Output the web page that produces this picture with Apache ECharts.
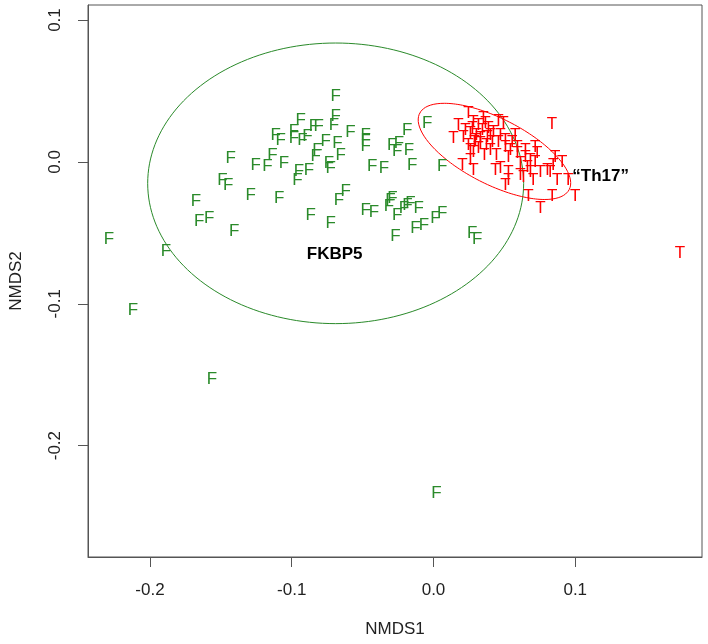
<!DOCTYPE html>
<html>
<head>
<meta charset="utf-8">
<script src="https://cdn.jsdelivr.net/npm/echarts@6/dist/echarts.min.js"></script>
<style>
html,body{margin:0;padding:0;background:#fff;}
#chart{width:708px;height:644px;}
</style>
</head>
<body>
<div id="chart"></div>
<script>
// Axis ticks
var xTicks = [-0.2, -0.1, 0.0, 0.1];
var yTicks = [-0.2, -0.1, 0.0, 0.1];
var xRange = [-0.2437, 0.1894];
var yRange = [-0.2785, 0.1106];

// "F" samples (FKBP5 group): [NMDS1, NMDS2]
var fPoints = [
  [-0.0690, 0.0460], [-0.0937, 0.0296], [-0.0690, 0.0319], [-0.0702, 0.0261],
  [-0.0843, 0.0249], [-0.0810, 0.0249], [-0.1113, 0.0190], [-0.1077, 0.0155],
  [-0.0984, 0.0213], [-0.0984, 0.0167], [-0.0925, 0.0155], [-0.0889, 0.0178],
  [-0.0585, 0.0206], [-0.0479, 0.0190], [-0.0479, 0.0108], [-0.0479, 0.0155],
  [-0.0761, 0.0143], [-0.0678, 0.0132], [-0.0819, 0.0085], [-0.0831, 0.0037],
  [-0.0655, 0.0049], [-0.1136, 0.0049], [-0.1430, 0.0026], [-0.1254, -0.0021],
  [-0.1171, -0.0033], [-0.1054, -0.0009], [-0.0737, -0.0009], [-0.0725, -0.0044],
  [-0.0878, -0.0056], [-0.0949, -0.0068], [-0.0960, -0.0127], [-0.0432, -0.0033],
  [-0.0350, -0.0044], [-0.0185, 0.0225], [-0.0044, 0.0273], [-0.0291, 0.0120],
  [-0.0244, 0.0132], [-0.0256, 0.0073], [-0.0174, 0.0085], [-0.0150, -0.0021],
  [0.0061, -0.0033], [-0.1488, -0.0127], [-0.1449, -0.0162], [-0.1289, -0.0232],
  [-0.1089, -0.0256], [-0.1676, -0.0280], [-0.1653, -0.0420], [-0.1582, -0.0396],
  [-0.1406, -0.0491], [-0.0620, -0.0209], [-0.0667, -0.0268], [-0.0866, -0.0373],
  [-0.0725, -0.0432], [-0.0479, -0.0338], [-0.0420, -0.0357], [-0.0303, -0.0268],
  [-0.0315, -0.0315], [-0.0256, -0.0373], [-0.0209, -0.0326], [-0.0162, -0.0291],
  [-0.0183, -0.0303], [-0.0289, -0.0254], [-0.0104, -0.0326], [-0.0127, -0.0467],
  [-0.0068, -0.0444], [0.0014, -0.0396], [0.0061, -0.0361], [-0.0268, -0.0526],
  [0.0273, -0.0502], [0.0308, -0.0549], [-0.1887, -0.0632], [-0.2289, -0.0549],
  [-0.2120, -0.1049], [-0.1563, -0.1535], [0.0021, -0.2338]
];

// "T" samples (Th17 group): [NMDS1, NMDS2]
var tPoints = [
  [0.0246, 0.0345], [0.0176, 0.0261], [0.0282, 0.0282], [0.0366, 0.0275],
  [0.0458, 0.0289], [0.0493, 0.0275], [0.0141, 0.0169], [0.0211, 0.0176],
  [0.0261, 0.0204], [0.0296, 0.0155], [0.0331, 0.0134], [0.0380, 0.0176],
  [0.0415, 0.0141], [0.0458, 0.0141], [0.0507, 0.0106], [0.0542, 0.0085],
  [0.0592, 0.0106], [0.0577, 0.0190], [0.0718, 0.0106], [0.0732, 0.0063],
  [0.0648, 0.0035], [0.0683, 0.0014], [0.0592, 0.0063], [0.0528, 0.0035],
  [0.0282, 0.0070], [0.0261, 0.0014], [0.0204, -0.0021], [0.0282, -0.0056],
  [0.0437, -0.0056], [0.0472, -0.0042], [0.0528, -0.0070], [0.0613, -0.0092],
  [0.0718, 0.0000], [0.0662, -0.0035], [0.0683, -0.0070], [0.0754, -0.0070],
  [0.0803, -0.0056], [0.0704, -0.0127], [0.0528, -0.0127], [0.0507, -0.0162],
  [0.0634, -0.0106], [0.0859, 0.0035], [0.0845, -0.0021], [0.0824, -0.0070],
  [0.0873, -0.0127], [0.0908, 0.0000], [0.0951, -0.0127], [0.0669, -0.0246],
  [0.0754, -0.0324], [0.0838, -0.0246], [0.1000, -0.0246], [0.0836, 0.0268],
  [0.0225, 0.0225], [0.0246, 0.0120], [0.0275, 0.0239], [0.0303, 0.0190],
  [0.0317, 0.0099], [0.0345, 0.0225], [0.0359, 0.0049], [0.0387, 0.0239],
  [0.0401, 0.0085], [0.0423, 0.0211], [0.0444, 0.0049], [0.0331, 0.0169],
  [0.0289, 0.0141], [0.0373, 0.0120], [0.0261, 0.0085], [0.0317, 0.0261],
  [0.0352, 0.0310], [0.0401, 0.0190], [0.0472, 0.0190], [0.0507, 0.0155],
  [0.0556, 0.0141], [0.0613, -0.0007], [0.0648, 0.0085], [0.1739, -0.0641]
];

// Group ellipses: [centerX, centerY, semiAxisA, semiAxisB, angleDeg]
var fEllipse = [-0.0690, -0.0151, 0.1326, 0.0989, 0];
var tEllipse = [0.0430, 0.0074, 0.0592, 0.0232, -27];

// Group annotation labels: [x, y]
var fLabelPos = [-0.0697, -0.0648];
var tLabelPos = [0.0979, -0.0099];

var GREEN = '#2a8a2a';
var RED = '#ff0000';
var FONT = '"Liberation Sans", Arial, Helvetica, sans-serif';

function ellipsePath(e) {
  var pts = [];
  var n = 180;
  var th = e[4] * Math.PI / 180;
  for (var i = 0; i <= n; i++) {
    var t = 2 * Math.PI * i / n;
    var u = e[2] * Math.cos(t), v = e[3] * Math.sin(t);
    pts.push([e[0] + u * Math.cos(th) - v * Math.sin(th),
              e[1] + u * Math.sin(th) + v * Math.cos(th)]);
  }
  return pts;
}

function fmt(v) { return (Math.abs(v) < 1e-9 ? 0 : v).toFixed(1); }

var chart = echarts.init(document.getElementById('chart'), null, {renderer: 'canvas'});

function letterSeries(pts, letter, color) {
  return {
    type: 'scatter',
    data: pts,
    symbol: 'circle',
    symbolSize: 1,
    itemStyle: {color: 'rgba(0,0,0,0)', opacity: 1},
    silent: true,
    label: {
      show: true,
      formatter: letter,
      position: 'inside',
      color: color,
      fontSize: 17,
      fontFamily: FONT
    },
    emphasis: {disabled: true},
    z: 3
  };
}

function textSeries(pos, text, align) {
  return {
    type: 'scatter',
    data: [{value: pos, name: text}],
    symbolSize: 1,
    itemStyle: {color: 'rgba(0,0,0,0)', opacity: 1},
    silent: true,
    label: {
      show: true,
      formatter: '{b}',
      position: 'inside',
      align: align,
      color: '#000',
      fontSize: 17,
      fontWeight: 'bold',
      fontFamily: FONT
    },
    emphasis: {disabled: true},
    z: 4
  };
}

var option = {
  animation: false,
  backgroundColor: '#ffffff',
  grid: {
    left: 86, right: 6, top: 5, bottom: 87,
    show: true, borderColor: '#555', borderWidth: 1, backgroundColor: 'transparent'
  },
  xAxis: {
    type: 'value',
    min: xRange[0], max: xRange[1],
    name: 'NMDS1',
    nameLocation: 'middle',
    nameGap: 64,
    nameTextStyle: {fontSize: 17, color: '#222', fontFamily: FONT},
    axisLine: {show: true, onZero: false, lineStyle: {color: '#555', width: 1}},
    axisTick: {show: true, customValues: xTicks, length: 10, lineStyle: {color: '#555'}},
    axisLabel: {customValues: xTicks, formatter: fmt, fontSize: 17, color: '#222',
                margin: 25, fontFamily: FONT},
    splitLine: {show: false}
  },
  yAxis: {
    type: 'value',
    min: yRange[0], max: yRange[1],
    name: 'NMDS2',
    nameLocation: 'middle',
    nameGap: 63,
    nameTextStyle: {fontSize: 17, color: '#222', fontFamily: FONT},
    axisLine: {show: true, onZero: false, lineStyle: {color: '#555', width: 1}},
    axisTick: {show: true, customValues: yTicks, length: 10, lineStyle: {color: '#555'}},
    axisLabel: {customValues: yTicks, formatter: fmt, fontSize: 17, color: '#222',
                rotate: 90, margin: 24, fontFamily: FONT},
    splitLine: {show: false}
  },
  series: [
    {
      type: 'line', data: ellipsePath(fEllipse), showSymbol: false, silent: true,
      lineStyle: {color: GREEN, width: 1}, z: 2
    },
    {
      type: 'line', data: ellipsePath(tEllipse), showSymbol: false, silent: true,
      lineStyle: {color: RED, width: 1}, z: 2
    },
    letterSeries(fPoints, 'F', GREEN),
    letterSeries(tPoints, 'T', RED),
    textSeries(fLabelPos, 'FKBP5', 'center'),
    textSeries(tLabelPos, '\u201CTh17\u201D', 'left')
  ]
};
chart.setOption(option);
</script>
</body>
</html>
